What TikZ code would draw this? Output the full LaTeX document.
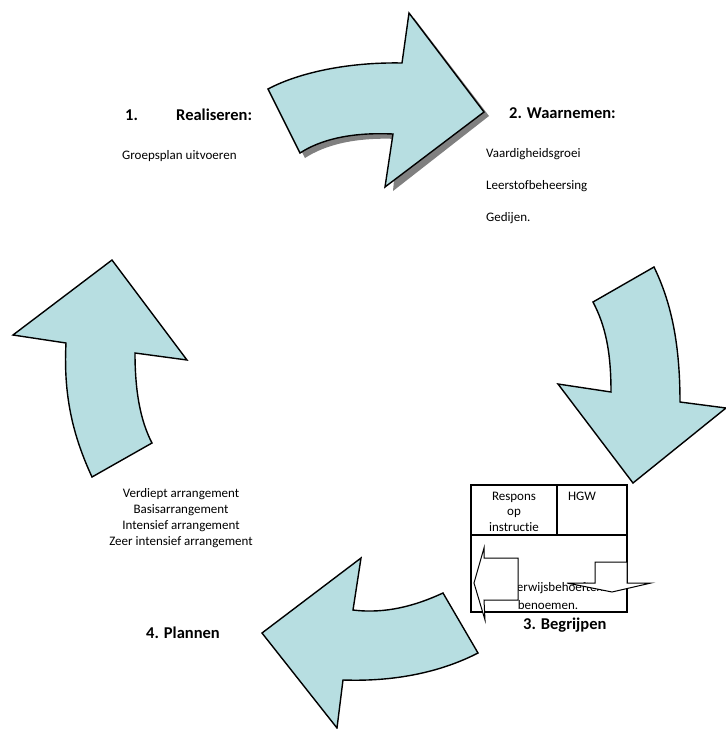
\documentclass[tikz,border=0pt]{standalone}
\usepackage{fontspec}
\setmainfont{Carlito}[Ligatures={NoCommon}]
\definecolor{arrowfill}{RGB}{183,222,225}
\definecolor{shadowgray}{RGB}{128,128,128}
\begin{document}
\begin{tikzpicture}[x=1pt,y=-1pt,
  bigarrow/.style={draw=black,fill=arrowfill,line width=1.4pt,line join=miter},
  smallarrow/.style={draw=black,fill=white,line width=1pt,line join=miter},
  boxline/.style={draw=black,line width=1.8pt},
  body/.style={inner sep=0pt,font=\fontsize{13}{15}\selectfont},
  head/.style={inner sep=0pt,font=\bfseries\fontsize{16.5}{19}\selectfont}]
\useasboundingbox (0,0) rectangle (726,729);

% Arrow 1 (top) with shadow
\fill[shadowgray] (273,94) .. controls (305,77) and (355,67) .. (407,68) -- (414,18) -- (489,116) -- (393,191) -- (398,139) .. controls (355,137) and (325,145) .. (305,158) -- cycle;
\path[bigarrow] (268,89) .. controls (300,72) and (350,62) .. (402,63) -- (409,13) -- (484,112) -- (385,187) -- (393,134) .. controls (350,132) and (320,140) .. (300,153) -- cycle;

% Arrow 2 (right)
\path[bigarrow] (593,302) -- (654,267) .. controls (670,300) and (680,340) .. (680,402) -- (726,408) -- (633,483) -- (558,384) -- (611,392) .. controls (611,350) and (605,325) .. (593,302) -- cycle;

% Arrow 3 (bottom)
\path[bigarrow] (262,633) -- (361,558) -- (353,610) .. controls (385,614) and (415,606) .. (443,593) -- (478,653) .. controls (445,670) and (400,682) .. (343,680) -- (337,728) -- cycle;

% Arrow 4 (left)
\path[bigarrow] (112,260) -- (187,360) -- (135,353) .. controls (135,390) and (140,420) .. (152,443) -- (92,477) .. controls (75,440) and (63,400) .. (66,343) -- (13,335) -- cycle;

% Headings and texts
\node[head,anchor=base west] (n1) at (125,120) {1.};
\node[head,anchor=base west] (real) at (176,120) {Realiseren:};
\node[body,anchor=base west] (groep) at (122,159) {Groepsplan uitvoeren};
\node[head,anchor=base west] (waar) at (509,118) {2. Waarnemen:};
\node[body,anchor=base west] (vaard) at (486,157) {Vaardigheidsgroei};
\node[body,anchor=base west] (leer) at (486,189) {Leerstofbeheersing};
\node[body,anchor=base west] (ged) at (486,221) {Gedijen.};
\node[body,anchor=base] (verd) at (181,497) {Verdiept arrangement};
\node[body,anchor=base] (basis) at (181,513) {Basisarrangement};
\node[body,anchor=base] (inten) at (181,529) {Intensief arrangement};
\node[body,anchor=base] (zeer) at (181,545) {Zeer intensief arrangement};
\node[head,anchor=base west] (plan) at (146,638) {4. Plannen};
\node[head,anchor=base west] (begr) at (523,629) {3. Begrijpen};

% Box
\draw[boxline] (471,485) rectangle (627,612);
\draw[boxline] (471,535) -- (627,535);
\draw[boxline] (557,485) -- (557,535);
\node[body,anchor=base] (resp) at (514,500) {Respons};
\node[body,anchor=base] (op) at (514,515) {op};
\node[body,anchor=base] (instr) at (514,531) {instructie};
\node[body,anchor=base] (hgw) at (582,500) {HGW};
\node[body,anchor=base] (ondw) at (549,591) {Onderwijsbehoeften};
\node[body,anchor=base] (ben) at (548,609) {benoemen.};

% small arrows in box
\path[smallarrow] (474,583) -- (484,548) -- (484,558) -- (518,558) -- (518,600) -- (484,600) -- (485,620) -- cycle;
\path[smallarrow] (595,562) -- (627,562) -- (627,583) -- (651,583) -- (612,592) -- (567,583) -- (595,583) -- cycle;
\end{tikzpicture}
\end{document}
